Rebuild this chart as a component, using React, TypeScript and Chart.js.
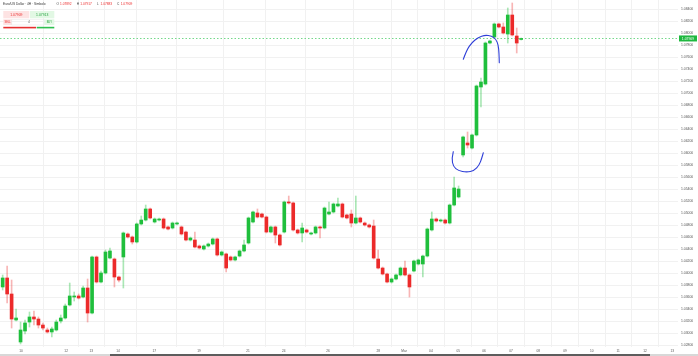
import React, { useEffect, useRef } from "react";
import { Chart, registerables } from "chart.js";
Chart.register(...registerables);

const opens = [1.03767,1.03917,1.03650,1.03217,1.02850,1.03033,1.03183,1.03267,1.03233,1.03133,1.03050,1.03017,1.03050,1.03200,1.03250,1.03467,1.03600,1.03617,1.03600,1.03750,1.03333,1.04267,1.03850,1.04000,1.04250,1.04233,1.03933,1.04267,1.04650,1.04600,1.04517,1.04817,1.04883,1.05067,1.04850,1.04883,1.04900,1.04767,1.04750,1.04817,1.04767,1.04683,1.04550,1.04550,1.04450,1.04400,1.04450,1.04483,1.04567,1.04300,1.04317,1.04267,1.04217,1.04283,1.04367,1.04500,1.04850,1.05000,1.04983,1.04933,1.04683,1.04767,1.04633,1.04683,1.05183,1.05167,1.04717,1.04667,1.04717,1.04650,1.04667,1.04767,1.04750,1.04983,1.05017,1.05117,1.05150,1.04967,1.04983,1.04833,1.04917,1.04833,1.04800,1.04783,1.04233,1.04083,1.03983,1.03850,1.03900,1.03967,1.04083,1.03967,1.04033,1.04150,1.04150,1.04283,1.04717,1.04900,1.04867,1.04883,1.04833,1.05133,1.05267,1.05967,1.06167,1.06083,1.06300,1.07100,1.07150,1.07833,1.07933,1.08150,1.08100,1.07983,1.08300,1.07950,1.07892];
const highs = [1.03967,1.04117,1.03883,1.03400,1.03183,1.03217,1.03350,1.03367,1.03267,1.03167,1.03083,1.03100,1.03217,1.03300,1.03483,1.03833,1.03683,1.03650,1.03783,1.03900,1.04283,1.04283,1.04033,1.04383,1.04417,1.04250,1.03950,1.04683,1.04667,1.04617,1.04833,1.04950,1.05133,1.05083,1.04917,1.04917,1.04917,1.04783,1.04850,1.04850,1.04783,1.04700,1.04600,1.04683,1.04467,1.04467,1.04500,1.04583,1.04583,1.04367,1.04333,1.04283,1.04283,1.04383,1.04550,1.04933,1.05033,1.05067,1.05000,1.04950,1.04783,1.04783,1.04650,1.05200,1.05283,1.05183,1.04733,1.04833,1.04733,1.04683,1.04783,1.04783,1.05100,1.05183,1.05167,1.05250,1.05167,1.04983,1.05050,1.05283,1.04933,1.04850,1.04817,1.04883,1.04383,1.04100,1.04000,1.03917,1.03983,1.04100,1.04200,1.03983,1.04217,1.04233,1.04300,1.04750,1.05017,1.04917,1.04900,1.04900,1.05150,1.05600,1.05450,1.06283,1.06350,1.06317,1.07133,1.07250,1.07850,1.07883,1.08167,1.08167,1.08167,1.08417,1.08500,1.08083,1.07917];
const lows = [1.03717,1.03500,1.03083,1.03200,1.02817,1.02983,1.03100,1.03133,1.03083,1.03050,1.03000,1.02933,1.03033,1.03167,1.03233,1.03450,1.03533,1.03567,1.03583,1.03183,1.03317,1.03833,1.03833,1.03983,1.04233,1.03767,1.03850,1.03750,1.04583,1.04483,1.04500,1.04800,1.04867,1.04900,1.04833,1.04867,1.04733,1.04717,1.04733,1.04800,1.04633,1.04533,1.04533,1.04417,1.04400,1.04383,1.04433,1.04467,1.04283,1.04283,1.04017,1.04200,1.04200,1.04267,1.04350,1.04483,1.04833,1.04917,1.04917,1.04667,1.04667,1.04500,1.04450,1.04667,1.05150,1.04700,1.04650,1.04517,1.04667,1.04633,1.04650,1.04583,1.04733,1.04967,1.05000,1.05100,1.04917,1.04900,1.04767,1.04817,1.04833,1.04783,1.04750,1.04233,1.04067,1.03967,1.03833,1.03833,1.03883,1.03950,1.03950,1.03600,1.04017,1.04133,1.03933,1.04267,1.04700,1.04850,1.04850,1.04817,1.04817,1.05117,1.05250,1.05933,1.06083,1.06067,1.06283,1.06767,1.07133,1.07817,1.07917,1.08083,1.07983,1.07833,1.07950,1.07667,1.07883];
const closes = [1.03917,1.03650,1.03233,1.03250,1.03050,1.03167,1.03267,1.03233,1.03133,1.03083,1.03017,1.03067,1.03183,1.03250,1.03450,1.03617,1.03617,1.03583,1.03750,1.03333,1.04267,1.03850,1.04000,1.04350,1.04367,1.03933,1.03883,1.04667,1.04600,1.04517,1.04817,1.04883,1.05067,1.04917,1.04900,1.04900,1.04750,1.04733,1.04833,1.04833,1.04650,1.04550,1.04583,1.04433,1.04417,1.04450,1.04483,1.04567,1.04300,1.04350,1.04083,1.04217,1.04267,1.04367,1.04467,1.04917,1.05017,1.04933,1.04933,1.04683,1.04767,1.04633,1.04467,1.05183,1.05167,1.04717,1.04667,1.04750,1.04683,1.04667,1.04767,1.04750,1.05083,1.05017,1.05150,1.05150,1.04933,1.04917,1.04833,1.04917,1.04850,1.04800,1.04767,1.04250,1.04083,1.03983,1.03850,1.03900,1.03967,1.04083,1.03967,1.03767,1.04200,1.04217,1.04283,1.04733,1.04900,1.04867,1.04883,1.04833,1.05133,1.05417,1.05400,1.06267,1.06133,1.06300,1.07117,1.07183,1.07833,1.07867,1.08150,1.08100,1.08000,1.08300,1.07967,1.07833,1.07909];

const dayLabels = ["10","12","13","14","17","19","21","24","26","28","Mar","04","05","06","07","08","09","10","11","12","13"];
const dayTickIndex = [4.1,14.2,19.8,25.8,33.9,43.9,54.9,62.9,72.8,84.0,89.8,95.8,101.9,107.7,113.7,119.8,125.8,131.8,137.7,143.7,149.8];
const priceTicks = [1.028,1.030,1.032,1.034,1.036,1.038,1.040,1.042,1.044,1.046,1.048,1.050,1.052,1.054,1.056,1.058,1.060,1.062,1.064,1.066,1.068,1.070,1.072,1.074,1.076,1.078,1.080,1.082,1.084];

const symbolTitle = "Euro/US Dollar · 4H · Simbolo";
const ohlcLabels = ["O","H","L","C"];
const ohlcValues = ["1.07892","1.07917","1.07883","1.07909"];
const bidPrice = 1.07909;
const askPrice = 1.07913;
const lotSize = "4";

// hand-drawn annotation strokes, in (candle index, price)
const upperArcX = [103.05,103.81,104.93,106.41,107.91,109.40,110.36,110.88,111.04,111.10];
const upperArcY = [1.07562,1.07717,1.07838,1.07928,1.07967,1.07950,1.07895,1.07800,1.07662,1.07505];
const lowerArcX = [100.81,100.45,100.81,101.93,103.81,105.45,106.63,107.17,107.53];
const lowerArcY = [1.06022,1.05912,1.05772,1.05705,1.05678,1.05705,1.05800,1.05912,1.06005];

const GREEN = "#1fbf3c";
const RED = "#ec2a2a";
const GREEN_WICK = "rgba(31,191,60,0.38)";
const RED_WICK = "rgba(236,42,42,0.35)";
const FONT = "'Liberation Sans', Arial, sans-serif";

export default function App() {
  const ref = useRef<HTMLCanvasElement>(null);
  useEffect(() => {
    const idx = opens.map((_, i) => i);
    const up = idx.map((i) => closes[i] >= opens[i]);
    const wickData = idx.map((i) => ({ x: i, y: [lows[i], highs[i]] }));
    const bodyData = idx.map((i) => ({ x: i, y: [opens[i], closes[i]] }));

    const overlay = {
      id: "overlay",
      beforeDraw(chart: any) {
        const c = chart.ctx;
        c.save();
        c.fillStyle = "#ffffff";
        c.fillRect(0, 0, chart.width, chart.height);
        c.restore();
      },
      beforeDatasetsDraw(chart: any) {
        const c = chart.ctx;
        const ys = chart.scales.y;
        const a = chart.chartArea;
        const py = Math.round(ys.getPixelForValue(bidPrice)) + 0.5;
        c.save();
        c.strokeStyle = "#74d98a";
        c.lineWidth = 1;
        c.setLineDash([1.5, 2]);
        c.beginPath();
        c.moveTo(a.left, py);
        c.lineTo(a.right, py);
        c.stroke();
        c.restore();
      },
      afterDraw(chart: any) {
        const c = chart.ctx;
        const xs = chart.scales.x;
        const ys = chart.scales.y;
        const a = chart.chartArea;
        c.save();
        const drawArc = (xv: number[], yv: number[]) => {
          const pts = xv.map((v, k) => [xs.getPixelForValue(v), ys.getPixelForValue(yv[k])]);
          c.beginPath();
          c.moveTo(pts[0][0], pts[0][1]);
          for (let k = 1; k < pts.length - 1; k++) {
            const mx = (pts[k][0] + pts[k + 1][0]) / 2;
            const my = (pts[k][1] + pts[k + 1][1]) / 2;
            c.quadraticCurveTo(pts[k][0], pts[k][1], mx, my);
          }
          const l = pts[pts.length - 1];
          c.lineTo(l[0], l[1]);
          c.stroke();
        };
        c.strokeStyle = "#2f3fd8";
        c.lineWidth = 1.1;
        c.lineCap = "round";
        c.lineJoin = "round";
        drawArc(upperArcX, upperArcY);
        drawArc(lowerArcX, lowerArcY);

        // current price label
        const py = ys.getPixelForValue(bidPrice);
        c.fillStyle = "#1fb83f";
        c.fillRect(a.right + 1, py - 3, 18, 6);
        c.fillStyle = "#ffffff";
        c.font = `3.4px ${FONT}`;
        c.textBaseline = "middle";
        c.textAlign = "center";
        c.fillText(bidPrice.toFixed(5), a.right + 10, py + 0.2);

        // header
        c.textAlign = "left";
        c.fillStyle = "#333";
        c.font = `3.2px ${FONT}`;
        c.fillText(symbolTitle, 3, 4.6);
        let hx = 56.5;
        ohlcLabels.forEach((lab, k) => {
          c.fillStyle = "#444";
          c.fillText(lab, hx, 4.6);
          c.fillStyle = RED;
          c.fillText(ohlcValues[k], hx + 3.6, 4.6);
          hx += 20.2;
        });

        // trading widget
        c.fillStyle = "#fde3e3";
        c.fillRect(3.3, 11, 26, 7.3);
        c.fillStyle = "#e2f8e4";
        c.fillRect(30, 11, 24.3, 7.3);
        c.textAlign = "center";
        c.font = `3.4px ${FONT}`;
        c.fillStyle = RED;
        c.fillText(bidPrice.toFixed(5), 16.3, 14.7);
        c.fillStyle = "#1a9e35";
        c.fillText(askPrice.toFixed(5), 42.2, 14.7);
        c.fillStyle = "#fde3e3";
        c.fillRect(3.3, 19.3, 8.6, 5.7);
        c.fillStyle = "#e2f8e4";
        c.fillRect(44.3, 19.3, 10, 5.7);
        c.strokeStyle = "#e6e6e6";
        c.lineWidth = 0.5;
        c.strokeRect(12, 19.5, 32.2, 5.4);
        c.font = `2.6px ${FONT}`;
        c.fillStyle = RED;
        c.fillText("SELL", 7.6, 22.2);
        c.fillStyle = "#1a9e35";
        c.fillText("BUY", 49.3, 22.2);
        c.fillStyle = "#333";
        c.fillText(lotSize, 29, 22.2);
        c.fillStyle = "#e53030";
        c.fillRect(3.3, 26.8, 32.7, 1.6);
        c.fillStyle = "#2fbf4f";
        c.fillRect(36.7, 26.8, 17.6, 1.6);

        // bottom scrollbar
        c.fillStyle = "#d8d8d8";
        c.fillRect(0, 354, chart.width, 2);
        c.fillStyle = "#5d5d5d";
        c.fillRect(110, 354, 540, 2);
        c.restore();
      },
    };

    const chart = new Chart(ref.current as HTMLCanvasElement, {
      type: "bar",
      data: {
        datasets: [
          {
            data: wickData as any,
            backgroundColor: up.map((u) => (u ? GREEN_WICK : RED_WICK)),
            barThickness: 1,
            grouped: false,
            order: 2,
          } as any,
          {
            data: bodyData as any,
            backgroundColor: up.map((u) => (u ? GREEN : RED)),
            barThickness: 3,
            minBarLength: 1,
            grouped: false,
            order: 1,
          } as any,
        ],
      },
      options: {
        animation: false,
        responsive: false,
        maintainAspectRatio: false,
        layout: { padding: 0 },
        plugins: { legend: { display: false }, tooltip: { enabled: false } },
        events: [],
        scales: {
          x: {
            type: "linear",
            offset: false,
            min: -0.597,
            max: 151.08,
            border: { display: false },
            grid: { color: "#f1f1f1", drawTicks: false, lineWidth: 1 },
            afterBuildTicks: (axis: any) => {
              axis.ticks = dayTickIndex.map((v) => ({ value: v }));
            },
            afterFit: (axis: any) => {
              axis.height = 9;
              axis.paddingLeft = 0;
              axis.paddingRight = 0;
              axis.paddingTop = 0;
              axis.paddingBottom = 0;
            },
            ticks: {
              autoSkip: false,
              maxRotation: 0,
              padding: 2.5,
              color: "#555",
              font: { size: 3.2, family: FONT },
              callback: (_v: any, i: number) => dayLabels[i],
            },
          } as any,
          y: {
            position: "right",
            min: 1.0276667,
            max: 1.0855,
            border: { display: false },
            grid: { color: "#f1f1f1", drawTicks: false, lineWidth: 1 },
            afterBuildTicks: (axis: any) => {
              axis.ticks = priceTicks.map((v) => ({ value: v }));
            },
            afterFit: (axis: any) => {
              axis.width = 20;
              axis.paddingLeft = 0;
              axis.paddingRight = 0;
              axis.paddingTop = 0;
              axis.paddingBottom = 0;
            },
            ticks: {
              autoSkip: false,
              padding: 3,
              color: "#555",
              font: { size: 3.4, family: FONT },
              callback: (v: any) => Number(v).toFixed(5),
            },
          } as any,
        },
      },
      plugins: [overlay],
    });
    return () => chart.destroy();
  }, []);

  return (
    <div style={{ position: "fixed", left: 0, top: 0, width: 698, height: 356, background: "#fff" }}>
      <canvas ref={ref} width={698} height={356} style={{ display: "block", width: 698, height: 356 }} />
    </div>
  );
}
